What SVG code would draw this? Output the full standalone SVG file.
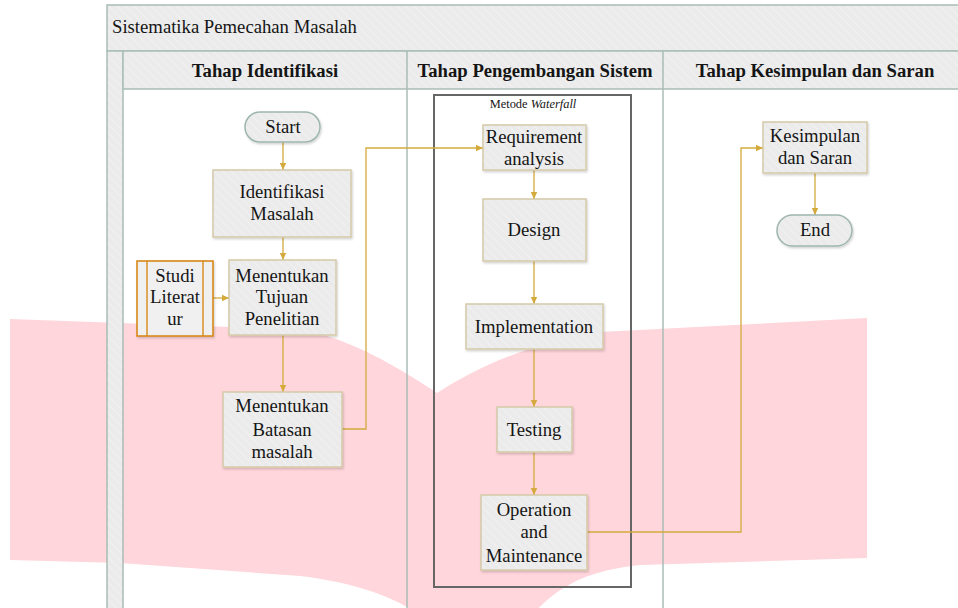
<svg xmlns="http://www.w3.org/2000/svg" width="958" height="608" viewBox="0 0 958 608">
<style>
.t{font-family:'Liberation Serif','DejaVu Serif',serif;font-size:18.7px;fill:#151515;text-anchor:middle}
.h{font-weight:bold}
.pool{stroke:#a9bdb7;stroke-width:1.5}
.node{fill:url(#hatch);stroke:#d5caa8;stroke-width:1.5;filter:url(#sh)}
.pill{fill:url(#hatch);stroke:#9fb6b0;stroke-width:1.5;filter:url(#sh)}
.c{fill:none;stroke:#d4aa3c;stroke-width:1.3}
</style>
<defs>
<pattern id="hatch" width="6" height="6" patternUnits="userSpaceOnUse" patternTransform="rotate(-45)">
<rect width="6" height="6" fill="#ebebeb"/>
<line x1="0" y1="0" x2="0" y2="6" stroke="#f3f3f3" stroke-width="1.5"/>
</pattern>
<filter id="sh" x="-10%" y="-10%" width="130%" height="130%">
<feDropShadow dx="1" dy="1.5" stdDeviation="1" flood-color="#000" flood-opacity="0.18"/>
</filter>
<marker id="ar" markerWidth="8" markerHeight="8" refX="7" refY="4" orient="auto" markerUnits="userSpaceOnUse">
<path d="M0,0.8 L7,4 L0,7.2 Z" fill="#d4aa3c"/>
</marker>
</defs>
<rect width="958" height="608" fill="#fff"/>
<path d="M10,319 L230,327 C280,329 310,332 330,337 C370,350 410,375 437,393 C470,372 520,345 600,332 L867,318 L867,558 L640,565 C590,570 560,585 535,612 L415,612 C390,595 350,582 300,576 L120,563 L10,560 Z" fill="#ffd6db"/>
<g id="pool">
<rect x="107" y="5" width="860" height="46" fill="url(#hatch)" class="pool"/>
<text x="112" y="33" class="t" style="text-anchor:start">Sistematika Pemecahan Masalah</text>
<rect x="107" y="51" width="16" height="570" fill="url(#hatch)" class="pool"/>
<rect x="123" y="51" width="844" height="38" fill="url(#hatch)" class="pool"/>
<line x1="407" y1="51" x2="407" y2="608" class="pool"/>
<line x1="663" y1="51" x2="663" y2="608" class="pool"/>
<text x="265" y="77" class="t h">Tahap Identifikasi</text>
<text x="535" y="77" class="t h">Tahap Pengembangan Sistem</text>
<text x="815" y="77" class="t h">Tahap Kesimpulan dan Saran</text>
</g>
<g id="waterfall">
<rect x="434" y="95" width="197" height="492" fill="none" stroke="#666" stroke-width="2"/>
<text x="533" y="108" class="t" style="font-size:12.4px">Metode <tspan font-style="italic">Waterfall</tspan></text>
</g>
<g id="connectors">
<line x1="283" y1="142" x2="283" y2="170" class="c" marker-end="url(#ar)"/>
<line x1="283" y1="237" x2="283" y2="260" class="c" marker-end="url(#ar)"/>
<line x1="213" y1="298" x2="229" y2="298" class="c" marker-end="url(#ar)"/>
<line x1="283" y1="335" x2="283" y2="392" class="c" marker-end="url(#ar)"/>
<polyline points="342,429 366,429 366,148 483,148" class="c" marker-end="url(#ar)"/>
<line x1="534" y1="170" x2="534" y2="199" class="c" marker-end="url(#ar)"/>
<line x1="534" y1="261" x2="534" y2="304" class="c" marker-end="url(#ar)"/>
<line x1="534" y1="349" x2="534" y2="407" class="c" marker-end="url(#ar)"/>
<line x1="534" y1="452" x2="534" y2="495" class="c" marker-end="url(#ar)"/>
<polyline points="587,532 741,532 741,148 763,148" class="c" marker-end="url(#ar)"/>
<line x1="815" y1="173" x2="815" y2="215" class="c" marker-end="url(#ar)"/>
</g>
<g id="start">
<rect x="245" y="112" width="75" height="30" rx="15" class="pill"/>
<text x="283" y="133" class="t">Start</text>
</g>
<g id="identifikasi">
<rect x="213" y="170" width="138" height="67" class="node"/>
<text x="282" y="198" class="t">Identifikasi</text>
<text x="282" y="220" class="t">Masalah</text>
</g>
<g id="studi">
<rect x="137" y="261" width="76" height="75" fill="#f0f0f0" stroke="#d9891a" stroke-width="1.6" filter="url(#sh)"/>
<line x1="147" y1="261" x2="147" y2="336" stroke="#d9891a" stroke-width="1.4"/>
<line x1="203" y1="261" x2="203" y2="336" stroke="#d9891a" stroke-width="1.4"/>
<text x="175" y="282" class="t">Studi</text>
<text x="175" y="303" class="t">Literat</text>
<text x="175" y="325" class="t">ur</text>
</g>
<g id="tujuan">
<rect x="229" y="260" width="107" height="75" class="node"/>
<text x="282" y="282" class="t">Menentukan</text>
<text x="282" y="303" class="t">Tujuan</text>
<text x="282" y="325" class="t">Penelitian</text>
</g>
<g id="batasan">
<rect x="223" y="392" width="119" height="75" class="node"/>
<text x="282" y="412" class="t">Menentukan</text>
<text x="282" y="436" class="t">Batasan</text>
<text x="282" y="458" class="t">masalah</text>
</g>
<g id="requirement">
<rect x="483" y="125" width="103" height="45" class="node"/>
<text x="534" y="143" class="t">Requirement</text>
<text x="534" y="165" class="t">analysis</text>
</g>
<g id="design">
<rect x="483" y="199" width="103" height="62" class="node"/>
<text x="534" y="236" class="t">Design</text>
</g>
<g id="implementation">
<rect x="466" y="304" width="137" height="45" class="node"/>
<text x="534" y="333" class="t">Implementation</text>
</g>
<g id="testing">
<rect x="497" y="407" width="75" height="45" class="node"/>
<text x="534" y="436" class="t">Testing</text>
</g>
<g id="operation">
<rect x="481" y="495" width="106" height="75" class="node"/>
<text x="534" y="516" class="t">Operation</text>
<text x="534" y="538" class="t">and</text>
<text x="534" y="562" class="t">Maintenance</text>
</g>
<g id="kesimpulan">
<rect x="763" y="122" width="104" height="51" class="node"/>
<text x="815" y="142" class="t">Kesimpulan</text>
<text x="815" y="164" class="t">dan Saran</text>
</g>
<g id="end">
<rect x="777" y="215" width="75" height="31" rx="15.5" class="pill"/>
<text x="815" y="236" class="t">End</text>
</g>
</svg>
